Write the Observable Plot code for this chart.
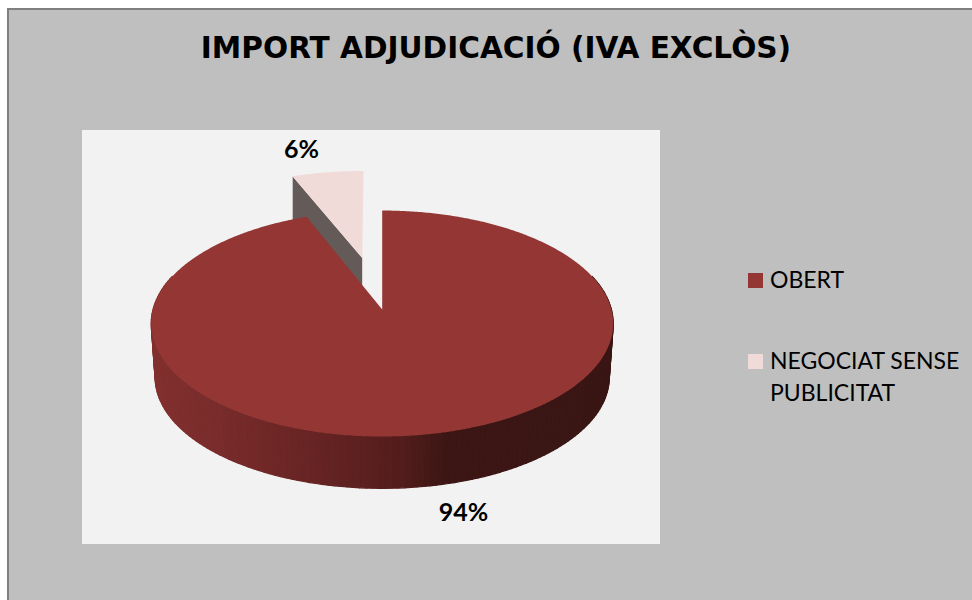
<!DOCTYPE html>
<html><head><meta charset="utf-8">
<script src="https://cdn.jsdelivr.net/npm/d3@7"></script>
<script src="https://cdn.jsdelivr.net/npm/@observablehq/plot@0.6"></script>
<style>
html,body{margin:0;padding:0;background:#fff;overflow:hidden}
#chart{position:absolute;left:0;top:0;width:972px;height:600px}
#chart svg{display:block}
</style></head><body><div id="chart"></div>
<script>
// Data
const categories = ["OBERT", "NEGOCIAT SENSE PUBLICITAT"];
const shares = [94, 6];
const shareLabels = ["94%", "6%"];
const colors = ["#933634", "#f0dbd9"];
const titleText = "IMPORT ADJUDICACIÓ (IVA EXCLÒS)";

// Layout of the tilted pie (SVG pixels on an identity scale)
const hub = {x: 381.7, y: 309};
const persp = {a: 229.2, b: 111.25, k: 0.124};
const depth = {dy: 54, scale: 0.983};
const blast = {dx: -20, dy: -51.5, sx: 0.935, sy: 0.88, lean: -0.015};

const total = d3.sum(shares);
const sweep = shares.map(s => s / total * 2 * Math.PI);
const project = t => {
  const u = Math.sin(t), v = -Math.cos(t), w = 1 - persp.k * v;
  return {X: persp.a * u / w, Y: persp.b * v / w};
};
const arcAngles = (a0, a1, step = 0.01) => {
  const n = Math.ceil((a1 - a0) / step);
  return d3.range(n + 1).map(i => a0 + (a1 - a0) * i / n);
};
// Main slice, clockwise from twelve o'clock
const mainTop = [{x: hub.x, y: hub.y}, ...arcAngles(0, sweep[0]).map(t => {
  const p = project(t); return {x: hub.x + p.X, y: hub.y + p.Y};
})];
// Rim of the main slice as small quads, shaded from left to right
const shade = d3.scaleLinear()
  .domain([151, 230, 300, 400, 445, 613])
  .range(["#82302f", "#762b2a", "#692524", "#531d1c", "#3c1614", "#391614"]);
const wall = [];
arcAngles(Math.PI * 0.4, Math.PI * 1.6, 0.025).forEach((t, i, all) => {
  if (i === all.length - 1) return;
  const p0 = project(t), p1 = project(all[i + 1]);
  const xm = hub.x + (p0.X + p1.X) / 2;
  const c = shade(xm);
  [[p0, 0], [p1, 0], [p1, 1], [p0, 1], [p0, 0]].forEach(([p, low]) => wall.push({
    seg: i, c,
    x: hub.x + p.X * (low ? depth.scale : 1),
    y: hub.y + (low ? depth.dy + p.Y * depth.scale : p.Y)
  }));
});
// Exploded slice
const bx = hub.x + blast.dx, by = hub.y + blast.dy;
const blastAt = t => {
  const p = project(t);
  const Y = p.Y * blast.sy;
  return {x: bx + p.X * blast.sx + Y * blast.lean, y: by + Y};
};
const blastRim = arcAngles(sweep[0], 2 * Math.PI).map(blastAt);
const blastTop = [{x: bx, y: by}, ...blastRim];
const corner = blastRim[0];
const innerDepth = 45;
const innerWall = [
  {x: bx, y: by}, corner,
  {x: corner.x, y: corner.y + innerDepth}, {x: bx, y: by + innerDepth}
];

const panel = [{x1: 82, x2: 660, y1: 130, y2: 544}];
const back = [{x1: 9, x2: 972, y1: 10, y2: 600}];
const border = [{x1: 7, x2: 972, y1: 8, y2: 600}];
const fontBody = "Lato, 'Open Sans', sans-serif";

const labelRows = [
  {x: 463, y: 512.5, t: shareLabels[0]},
  {x: 301, y: 149.5, t: shareLabels[1]}
];
const swatches = [
  {x1: 748, x2: 763, y1: 273, y2: 288, c: colors[0]},
  {x1: 748, x2: 763, y1: 354, y2: 369, c: colors[1]}
];
const legendRows = [
  {x: 769.5, y: 280.5, t: categories[0]},
  {x: 769.5, y: 361.5, t: "NEGOCIAT SENSE"},
  {x: 769.5, y: 393, t: "PUBLICITAT"}
];

const plot = Plot.plot({
  width: 972, height: 600,
  margin: 0,
  x: {domain: [0, 972], range: [0, 972], axis: null},
  y: {domain: [0, 600], range: [0, 600], axis: null},
  color: {type: "identity"},
  style: {background: "transparent"},
  marks: [
    Plot.rect(border, {x1: "x1", x2: "x2", y1: "y1", y2: "y2", fill: "#7f7f7f"}),
    Plot.rect(back, {x1: "x1", x2: "x2", y1: "y1", y2: "y2", fill: "#bfbfbf"}),
    Plot.rect(panel, {x1: "x1", x2: "x2", y1: "y1", y2: "y2", fill: "#f2f2f2"}),
    Plot.line(innerWall, {x: "x", y: "y", fill: "#645a58", stroke: "none"}),
    Plot.line(blastTop, {x: "x", y: "y", fill: colors[1], stroke: "none"}),
    Plot.line(wall, {x: "x", y: "y", z: "seg", fill: "c", stroke: "c", strokeWidth: 1.2}),
    Plot.line(mainTop, {x: "x", y: "y", fill: colors[0], stroke: "none"}),
    Plot.text(labelRows, {x: "x", y: "y", text: "t", fontSize: 25, fontWeight: 700, fill: "#000", fontFamily: fontBody}),
    Plot.rect(swatches, {x1: "x1", x2: "x2", y1: "y1", y2: "y2", fill: "c"}),
    Plot.text(legendRows, {x: "x", y: "y", text: "t", textAnchor: "start", fontSize: 23, fill: "#000", fontFamily: fontBody}),
    Plot.text([titleText], {x: () => 495.5, y: () => 48.5, text: d => d, fontSize: 29.6, fontWeight: 700, fill: "#000", fontFamily: "'DejaVu Sans', sans-serif"})
  ]
});
document.getElementById("chart").append(plot);
</script></body></html>
